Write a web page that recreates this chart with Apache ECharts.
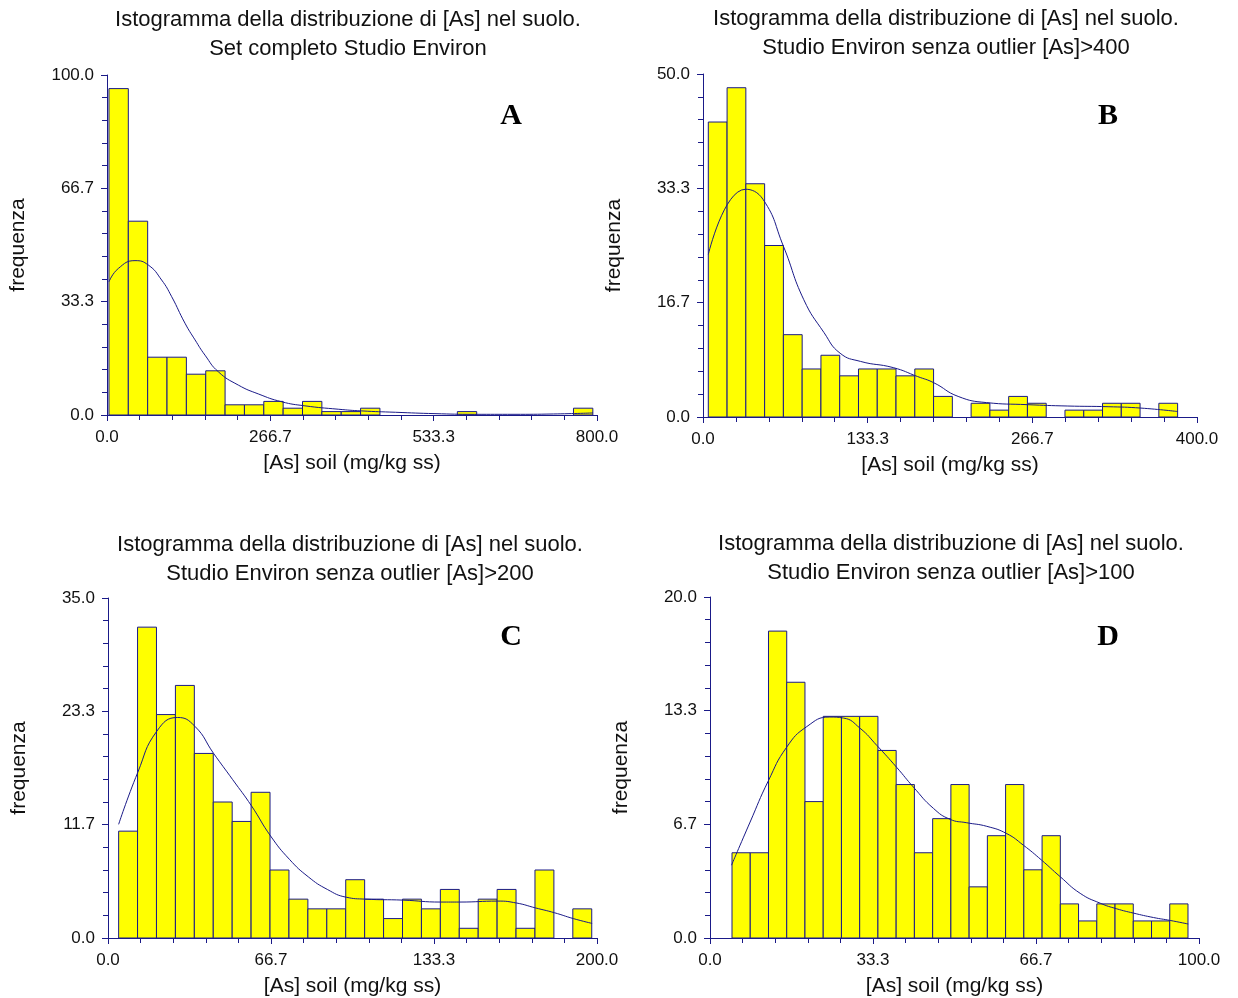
<!DOCTYPE html>
<html>
<head>
<meta charset="utf-8">
<script src="https://cdn.jsdelivr.net/npm/echarts@6/dist/echarts.min.js"></script>
<style>
  html, body { margin: 0; padding: 0; background: #fff; }
  #main { width: 1238px; height: 998px; }
</style>
</head>
<body>
<div id="main"></div>
<script>
// ====== dati ======
// istogrammi: 25 classi per pannello (inizio prima classe, ampiezza classe, frequenze)
const binStartA = 3.2, binWidthA = 31.6;
const countsA = [96, 57, 17, 17, 12, 13, 3, 3, 4, 2, 4, 1, 1, 2, 0, 0, 0, 0, 1, 0, 0, 0, 0, 0, 2];
const binStartB = 4.3, binWidthB = 15.2;
const countsB = [43, 48, 34, 25, 12, 7, 9, 6, 7, 7, 6, 7, 3, 0, 2, 1, 3, 2, 0, 1, 1, 2, 2, 0, 2];
const binStartC = 4.35, binWidthC = 7.74;
const countsC = [11, 32, 23, 26, 19, 14, 12, 15, 7, 4, 3, 3, 6, 4, 2, 4, 3, 5, 1, 4, 5, 1, 7, 0, 3];
const binStartD = 4.5, binWidthD = 3.73;
const countsD = [5, 5, 18, 15, 8, 13, 13, 13, 11, 9, 5, 7, 9, 3, 6, 9, 4, 6, 2, 1, 2, 2, 1, 1, 2];

// curve di densita' (x, frequenza)
const curveA = [[3.3, 39.2], [18.5, 43.1], [45.7, 45.4], [67.5, 44.1], [89.2, 39.7], [105.6, 34.8],
  [127.3, 27.0], [143.7, 22.1], [160, 17.6], [181.8, 12.7], [214.4, 8.8], [247, 6.2],
  [285, 3.9], [323, 2.7], [377.6, 1.7], [415.8, 1.2], [471, 0.8], [535.5, 0.4], [600, 0.2],
  [664.5, 0.2], [729, 0.3], [793.5, 0.6]];
const curveB = [[4.3, 23.7], [34.5, 33.2], [48.7, 31.7], [65.1, 24.9], [81.6, 17.1], [98, 12.3],
  [111, 9.3], [127.6, 8.1], [154, 7.2], [173.7, 5.9], [186.8, 5.0], [206.6, 3.0], [229.6, 2.1],
  [262.5, 1.8], [295.4, 1.6], [328, 1.5], [354.6, 1.3], [384.2, 0.8]];
const curveC = [[4.35, 11.7], [12.1, 17], [20, 21.3], [28.5, 22.7], [35.5, 21.8], [43.2, 19],
  [51, 16.3], [58.7, 13.6], [66.5, 10.5], [74.2, 8.1], [81.9, 6.3], [89.7, 5.0], [97.4, 4.2],
  [105.2, 4.0], [120.6, 3.9], [136.1, 3.7], [143.9, 3.7], [159.4, 3.8], [167.1, 3.6],
  [174.8, 3.1], [182.6, 2.6], [190.3, 2.0], [198, 1.5]];
const curveD = [[4.4, 4.27], [8.2, 6.8], [11.9, 9.2], [15.7, 11.2], [19.8, 12.4], [24.5, 12.96],
  [27.3, 12.9], [30.7, 12.3], [34.1, 11.3], [38.2, 10.0], [41.6, 8.85], [45.7, 7.6], [49.1, 6.96],
  [52.5, 6.76], [56.6, 6.55], [60.7, 6.12], [64.1, 5.44], [67.8, 4.57], [71.6, 3.6], [75.7, 2.62],
  [79.8, 2.04], [83.2, 1.71], [86.6, 1.46], [90.7, 1.2], [94.1, 1.03], [97.8, 0.82]];

const xMax = [800, 400, 200, 100];
const yMax = [100, 50, 35, 20];
const titles = [
  'Istogramma della distribuzione di [As] nel suolo.\nSet completo Studio Environ',
  'Istogramma della distribuzione di [As] nel suolo.\nStudio Environ senza outlier [As]>400',
  'Istogramma della distribuzione di [As] nel suolo.\nStudio Environ senza outlier [As]>200',
  'Istogramma della distribuzione di [As] nel suolo.\nStudio Environ senza outlier [As]>100'
];
const letters = ['A', 'B', 'C', 'D'];

// ====== stile ======
const navy = '#1a1a88';
const sansFont = "'Liberation Sans', Arial, sans-serif";
const grids = [
  { left: 107, top: 75, width: 490, height: 340 },
  { left: 703, top: 74, width: 494, height: 343 },
  { left: 108, top: 598, width: 489, height: 340 },
  { left: 710, top: 597, width: 489, height: 343 }
];
const titlePos = [
  { left: 348, top: 5 }, { left: 946, top: 4 },
  { left: 350, top: 530 }, { left: 951, top: 529 }
];
const letterPos = [
  { left: 511, top: 101 }, { left: 1108, top: 101 },
  { left: 511, top: 622 }, { left: 1108, top: 622 }
];

const toBins = (start, width, counts) =>
  counts.map((c, i) => [start + i * width, start + (i + 1) * width, c]).filter(d => d[2] > 0);

const histData = [
  toBins(binStartA, binWidthA, countsA),
  toBins(binStartB, binWidthB, countsB),
  toBins(binStartC, binWidthC, countsC),
  toBins(binStartD, binWidthD, countsD)
];
const curves = [curveA, curveB, curveC, curveD];

const fmt = v => v.toFixed(1);

const axisCommon = {
  type: 'value',
  axisLine: { show: true, onZero: false, lineStyle: { color: navy, width: 1 } },
  axisTick: { show: true, length: 6, lineStyle: { color: navy } },
  minorTick: { show: true, splitNumber: 5, length: 5, lineStyle: { color: navy } },
  splitLine: { show: false },
  minorSplitLine: { show: false }
};

const option = {
  backgroundColor: '#fff',
  animation: false,
  title: titles.map((t, i) => ({
    text: t,
    left: titlePos[i].left, top: titlePos[i].top,
    textAlign: 'center',
    padding: 0,
    textStyle: { fontFamily: sansFont, fontSize: 22, fontWeight: 'normal', color: '#111', lineHeight: 29 }
  })).concat(letters.map((l, i) => ({
    text: l,
    left: letterPos[i].left, top: letterPos[i].top,
    textAlign: 'center',
    padding: 0,
    textStyle: { fontFamily: "'Liberation Serif', 'Times New Roman', serif", fontSize: 30, fontWeight: 'bold', color: '#000' }
  }))),
  grid: grids.map(g => Object.assign({ containLabel: false }, g)),
  xAxis: grids.map((g, i) => Object.assign({}, axisCommon, {
    gridIndex: i,
    min: 0, max: xMax[i], interval: xMax[i] / 3,
    name: '[As] soil (mg/kg ss)',
    nameLocation: 'middle', nameGap: 38,
    nameTextStyle: { fontFamily: sansFont, fontSize: 21, color: '#111' },
    axisLabel: { formatter: fmt, margin: 14, fontFamily: sansFont, fontSize: 17, color: '#111' }
  })),
  yAxis: grids.map((g, i) => Object.assign({}, axisCommon, {
    gridIndex: i,
    min: 0, max: yMax[i], interval: yMax[i] / 3,
    name: 'frequenza',
    nameLocation: 'middle', nameGap: 78,
    nameTextStyle: { fontFamily: sansFont, fontSize: 21, color: '#111' },
    axisLabel: { formatter: fmt, margin: 13, fontFamily: sansFont, fontSize: 17, color: '#111' }
  })),
  series: []
};

histData.forEach((data, i) => {
  option.series.push({
    type: 'custom',
    xAxisIndex: i, yAxisIndex: i,
    encode: { x: [0, 1], y: 2 },
    renderItem: (params, api) => {
      const p0 = api.coord([api.value(0), api.value(2)]);
      const p1 = api.coord([api.value(1), 0]);
      return {
        type: 'rect',
        shape: { x: p0[0], y: p0[1], width: p1[0] - p0[0], height: p1[1] - p0[1] },
        style: { fill: '#ffff00', stroke: navy, lineWidth: 1 }
      };
    },
    data: data,
    z: 2
  });
  option.series.push({
    type: 'line',
    xAxisIndex: i, yAxisIndex: i,
    smooth: 0.5,
    showSymbol: false,
    lineStyle: { color: navy, width: 1 },
    data: curves[i],
    z: 3
  });
});

const chart = echarts.init(document.getElementById('main'));
chart.setOption(option);
window.addEventListener('resize', () => chart.resize());
</script>
</body>
</html>
